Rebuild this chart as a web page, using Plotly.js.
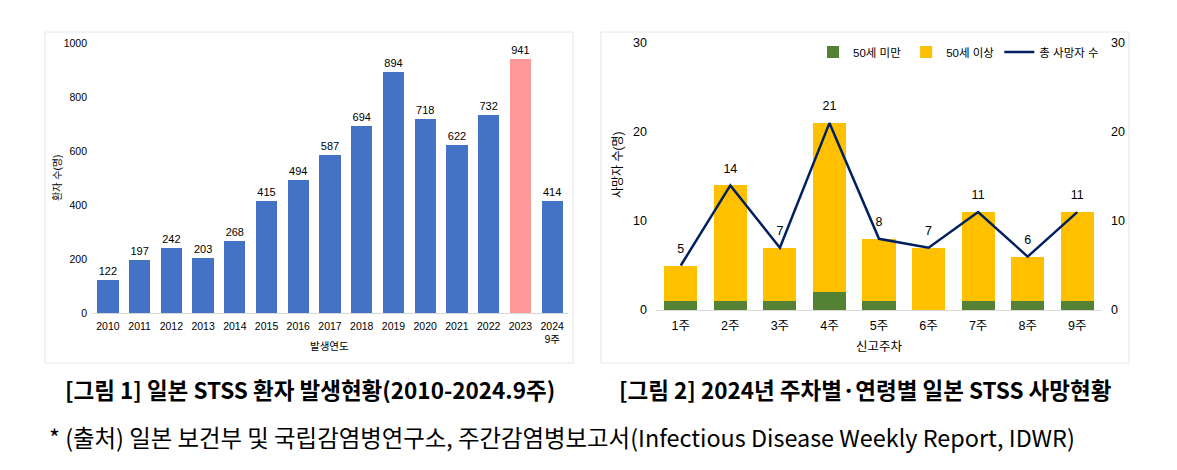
<!DOCTYPE html>
<html>
<head>
<meta charset="utf-8">
<script src="https://cdn.plot.ly/plotly-3.0.1.min.js"></script>
<style>
  html, body { margin: 0; padding: 0; background: #ffffff; }
  #chart { width: 1177px; height: 470px; }
</style>
</head>
<body>
<div id="chart"></div>
<script>
// ---- Data ----
const years = ['2010','2011','2012','2013','2014','2015','2016','2017','2018','2019','2020','2021','2022','2023','2024<br>9주'];
const patients = [122, 197, 242, 203, 268, 415, 494, 587, 694, 894, 718, 622, 732, 941, 414];
const highlightYear = '2023';

const weeks = ['1주','2주','3주','4주','5주','6주','7주','8주','9주'];
const under50 = [1, 1, 1, 2, 1, 0, 1, 1, 1];
const over50 = [4, 13, 6, 19, 7, 7, 10, 5, 10];
const totalDeaths = [5, 14, 7, 21, 8, 7, 11, 6, 11];

const seriesNames = ['50세 미만', '50세 이상', '총 사망자 수'];

const caption1 = '[그림 1] 일본 STSS 환자 발생현황(2010-2024.9주)';
const caption2 = '[그림 2] 2024년 주차별·연령별 일본 STSS 사망현황';
const footnote = '* (출처) 일본 보건부 및 국립감염병연구소, 주간감염병보고서(Infectious Disease Weekly Report, IDWR)';

// ---- Styling ----
const W = 1177, H = 470;
const FONT = 'Liberation Sans, Noto Sans CJK KR, sans-serif';
const CFONT = 'Noto Sans CJK KR, sans-serif';
const BLUE = '#4472C4', PINK = '#FF9999', GREEN = '#548235', GOLD = '#FFC000', NAVY = '#002060';
const px = v => v / W;
const py = v => 1 - v / H;

const traces = [
  {
    type: 'bar', x: years, y: patients, xaxis: 'x', yaxis: 'y',
    marker: { color: years.map(y => y === highlightYear ? PINK : BLUE), line: { width: 0 } },
    text: patients.map(String), textposition: 'outside', cliponaxis: false,
    textfont: { family: FONT, size: 11, color: '#000' },
    showlegend: false, hoverinfo: 'x+y'
  },
  {
    type: 'bar', name: seriesNames[0], x: weeks, y: under50, xaxis: 'x2', yaxis: 'y2',
    marker: { color: GREEN }
  },
  {
    type: 'bar', name: seriesNames[1], x: weeks, y: over50, xaxis: 'x2', yaxis: 'y2',
    marker: { color: GOLD }
  },
  {
    type: 'scatter', mode: 'lines+markers+text', name: seriesNames[2], x: weeks, y: totalDeaths,
    xaxis: 'x2', yaxis: 'y3',
    line: { color: NAVY, width: 2.5 },
    marker: { size: 14, color: 'rgba(0,0,0,0)' },
    text: totalDeaths.map(String), textposition: 'top center', cliponaxis: false,
    textfont: { family: FONT, size: 12.5, color: '#000' }
  }
];

const tickFont = { family: FONT, size: 10.5, color: '#000' };

const layout = {
  width: W, height: H,
  margin: { l: 0, r: 0, t: 0, b: 0 },
  paper_bgcolor: '#ffffff', plot_bgcolor: 'rgba(0,0,0,0)',
  font: { family: FONT, color: '#000' },
  barmode: 'stack',
  bargap: 0.33,
  xaxis: {
    type: 'category',
    domain: [px(92), px(568)], anchor: 'y', range: [-0.5, years.length - 0.5],
    showline: true, linecolor: '#d9d9d9', linewidth: 1,
    showgrid: false, zeroline: false, ticks: '', tickfont: tickFont, ticklabelstandoff: 3
  },
  yaxis: {
    domain: [py(313), py(43)], anchor: 'x',
    range: [0, 1000], dtick: 200, showgrid: false, zeroline: false, showline: false,
    ticks: '', tickfont: tickFont, ticklabelstandoff: 4
  },
  xaxis2: {
    type: 'category',
    domain: [px(656), px(1102)], anchor: 'y2', range: [-0.5, weeks.length - 0.5],
    showline: true, linecolor: '#d9d9d9', linewidth: 1,
    showgrid: false, zeroline: false, ticks: '', tickfont: { family: FONT, size: 12.5, color: '#000' },
    ticklabelstandoff: 4
  },
  yaxis2: {
    domain: [py(310), py(43)], anchor: 'x2',
    range: [0, 30], dtick: 10, showgrid: false, zeroline: false, showline: false,
    ticks: '', tickfont: { family: FONT, size: 12.5, color: '#000' }, ticklabelstandoff: 8
  },
  yaxis3: {
    overlaying: 'y2', side: 'right', anchor: 'x2',
    range: [0, 30], dtick: 10, showgrid: false, zeroline: false, showline: false,
    ticks: '', tickfont: { family: FONT, size: 12.5, color: '#000' }, ticklabelstandoff: 8
  },
  legend: {
    orientation: 'h', x: px(813), y: py(52), xanchor: 'left', yanchor: 'middle',
    font: { family: FONT, size: 11.5, color: '#000' },
    bgcolor: 'rgba(0,0,0,0)', traceorder: 'normal', itemwidth: 30
  },
  shapes: [
    { type: 'rect', xref: 'paper', yref: 'paper', x0: px(45), x1: px(573), y0: py(363), y1: py(32),
      line: { color: '#e6e6e6', width: 1 }, fillcolor: 'rgba(0,0,0,0)', layer: 'below' },
    { type: 'rect', xref: 'paper', yref: 'paper', x0: px(601), x1: px(1129), y0: py(363), y1: py(32),
      line: { color: '#e6e6e6', width: 1 }, fillcolor: 'rgba(0,0,0,0)', layer: 'below' }
  ],
  annotations: [
    { text: '환자 수(명)', xref: 'paper', yref: 'paper', x: px(57), y: py(178), textangle: -90,
      showarrow: false, xanchor: 'center', yanchor: 'middle', font: { family: FONT, size: 10, color: '#000' } },
    { text: '발생연도', xref: 'paper', yref: 'paper', x: px(330), y: py(346),
      showarrow: false, xanchor: 'center', yanchor: 'middle', font: { family: FONT, size: 10.5, color: '#000' } },
    { text: '사망자 수(명)', xref: 'paper', yref: 'paper', x: px(618), y: py(165), textangle: -90,
      showarrow: false, xanchor: 'center', yanchor: 'middle', font: { family: FONT, size: 12, color: '#000' } },
    { text: '신고주차', xref: 'paper', yref: 'paper', x: px(879), y: py(347),
      showarrow: false, xanchor: 'center', yanchor: 'middle', font: { family: FONT, size: 12.5, color: '#000' } },
    { text: '<b>' + caption1 + '</b>', xref: 'paper', yref: 'paper', x: px(310), y: py(389),
      showarrow: false, xanchor: 'center', yanchor: 'middle', font: { family: CFONT, size: 22.5, color: '#000' } },
    { text: '<b>' + caption2 + '</b>', xref: 'paper', yref: 'paper', x: px(865), y: py(389),
      showarrow: false, xanchor: 'center', yanchor: 'middle', font: { family: CFONT, size: 22.5, color: '#000' } },
    { text: footnote, xref: 'paper', yref: 'paper', x: px(47), y: py(437),
      showarrow: false, xanchor: 'left', yanchor: 'middle', font: { family: CFONT, size: 23.4, color: '#000' } }
  ]
};

Plotly.newPlot('chart', traces, layout, { displayModeBar: false, staticPlot: true });
</script>
</body>
</html>
